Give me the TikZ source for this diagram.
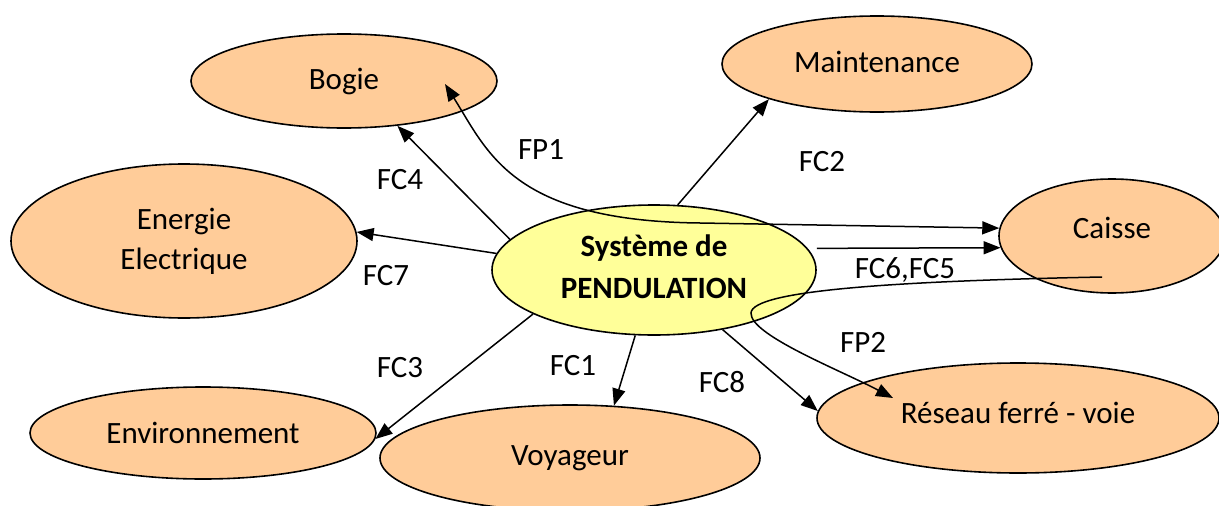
\documentclass[tikz,border=0pt]{standalone}
\usepackage{fontspec}
\setmainfont{Carlito}
\usetikzlibrary{shapes.geometric,arrows.meta}
\definecolor{peach}{RGB}{255,204,153}
\definecolor{lemon}{RGB}{255,255,153}

\begin{document}
\begin{tikzpicture}[x=1pt,y=-1pt, >={Triangle[length=17pt,width=13pt]},
  every node/.style={font=\fontsize{31}{40}\selectfont},
  bubble/.style={ellipse,draw,line width=1.6pt,fill=peach,inner sep=0pt,align=center},
  link/.style={line width=1.5pt,->}]
\clip (0,0) rectangle (1219,506);
\node[bubble,minimum width=306pt,minimum height=94pt] (bogie) at (344,81) {Bogie};
\node[bubble,minimum width=310pt,minimum height=96pt] (maint) at (877,64) {\raisebox{4pt}{Maintenance}};
\node[bubble,minimum width=346pt,minimum height=154pt] (energie) at (184,241) {Energie\\Electrique};
\node[bubble,minimum width=226pt,minimum height=114pt] (caisse) at (1112,236) {\raisebox{16pt}{Caisse}};
\node[bubble,fill=lemon,minimum width=324pt,minimum height=130pt,font=\fontsize{31}{42}\selectfont\bfseries] (sys) at (654,270) {\raisebox{7pt}{Système de}\\\raisebox{7pt}{PENDULATION}};
\node[bubble,minimum width=346pt,minimum height=92pt] (env) at (203,433) {Environnement};
\node[bubble,minimum width=380pt,minimum height=106pt] (voy) at (570,458) {Voyageur};
\node[bubble,minimum width=402pt,minimum height=110pt] (reseau) at (1018,418) {\raisebox{10pt}{Réseau ferré - voie}};

% fonctions
\draw[link] (sys.168) -- (bogie.-40);
\draw[link] (sys.174) -- (energie.3);
\draw[link] (sys.70) -- (maint.198);
\draw[link,shorten <=9pt] (sys.8) -- (caisse.186);
\draw[link] (sys.-41) -- (reseau.178);
\draw[link] (sys.-106) -- (voy.50);
\draw[link] (sys.200) -- (env.-2);
\coordinate (fp1) at ([xshift=101pt,yshift=-3pt]bogie.center);
\draw[link,<->] (fp1) .. controls (488,152) and (512,221) .. (700,223) -- (caisse.176);
\coordinate (fp2) at ([xshift=-10pt,yshift=-41pt]caisse.center);
\coordinate (fp2end) at ([xshift=-125pt,yshift=20pt]reseau.center);
\draw[link] (fp2) .. controls (900,281) and (752,290) .. (751,313) .. controls (750,335) and (840,370) .. (fp2end);

\node (fp1l) at (541,150) {FP1};
\node (fc2l) at (822,162) {FC2};
\node (fc4l) at (400,180) {FC4};
\node (fc7l) at (386,276) {FC7};
\node (fc65l) at (905,270) {FC6,FC5};
\node (fp2l) at (863,342) {FP2};
\node (fc3l) at (400,368) {FC3};
\node (fc1l) at (573,366) {FC1};
\node (fc8l) at (722,382) {FC8};
\end{tikzpicture}
\end{document}
